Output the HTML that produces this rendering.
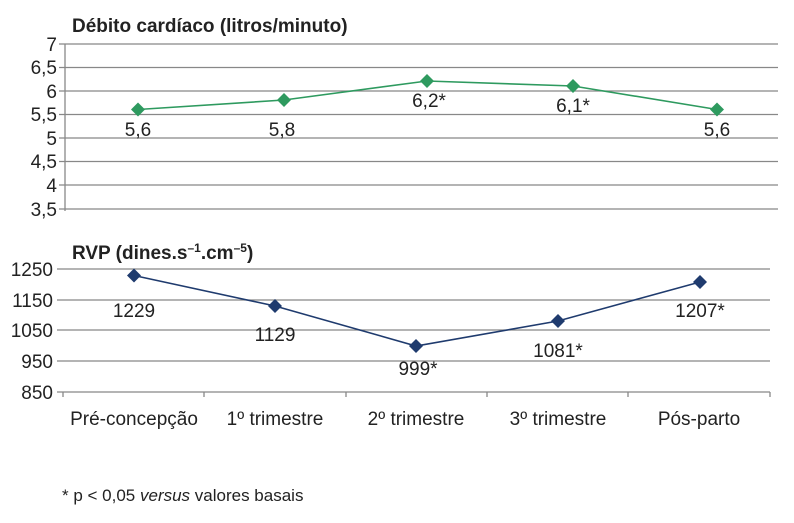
<!DOCTYPE html>
<html><head><meta charset="utf-8"><style>body{margin:0;background:#fff}svg{display:block}text{font-family:"Liberation Sans",sans-serif;fill:#222}</style></head><body>
<svg width="794" height="523" viewBox="0 0 794 523">
<text x="72" y="32" font-size="19" font-weight="bold">Débito cardíaco (litros/minuto)</text>
<g stroke="#888" stroke-width="1.3">
<line x1="59" y1="44" x2="778" y2="44"/><line x1="59" y1="67.5" x2="778" y2="67.5"/><line x1="59" y1="91" x2="778" y2="91"/><line x1="59" y1="114.5" x2="778" y2="114.5"/><line x1="59" y1="138" x2="778" y2="138"/><line x1="59" y1="161.5" x2="778" y2="161.5"/><line x1="59" y1="185" x2="778" y2="185"/><line x1="59" y1="209" x2="778" y2="209"/>
<line x1="65" y1="44" x2="65" y2="211"/>
</g>
<g font-size="19" text-anchor="end">
<text x="57" y="51">7</text><text x="57" y="74">6,5</text><text x="57" y="98">6</text><text x="57" y="121">5,5</text><text x="57" y="145">5</text><text x="57" y="168">4,5</text><text x="57" y="192">4</text><text x="57" y="216">3,5</text>
</g>
<polyline points="138,109.5 284,100 427,81 573,86 717,109.5" fill="none" stroke="#2e9a5f" stroke-width="1.6"/>
<g fill="#2e9a5f">
<path d="M138,102.5l7,7l-7,7l-7,-7z"/><path d="M284,93l7,7l-7,7l-7,-7z"/><path d="M427,74l7,7l-7,7l-7,-7z"/><path d="M573,79l7,7l-7,7l-7,-7z"/><path d="M717,102.5l7,7l-7,7l-7,-7z"/>
</g>
<g font-size="19" text-anchor="middle">
<text x="138" y="136">5,6</text><text x="282" y="136">5,8</text><text x="429" y="107">6,2*</text><text x="573" y="112">6,1*</text><text x="717" y="136">5,6</text>
</g>

<text x="72" y="259" font-size="19" font-weight="bold">RVP (dines.s<tspan font-size="12" dy="-7">–1</tspan><tspan dy="7">.cm</tspan><tspan font-size="12" dy="-7">–5</tspan><tspan dy="7">)</tspan></text>
<g stroke="#888" stroke-width="1.3">
<line x1="57" y1="269" x2="770" y2="269"/><line x1="57" y1="300" x2="770" y2="300"/><line x1="57" y1="330" x2="770" y2="330"/><line x1="57" y1="361" x2="770" y2="361"/><line x1="57" y1="392" x2="770" y2="392"/>
<line x1="63" y1="392" x2="63" y2="397"/><line x1="204" y1="392" x2="204" y2="397"/><line x1="346" y1="392" x2="346" y2="397"/><line x1="487" y1="392" x2="487" y2="397"/><line x1="628" y1="392" x2="628" y2="397"/><line x1="770" y1="392" x2="770" y2="397"/>
</g>
<g font-size="19" text-anchor="end">
<text x="53" y="276">1250</text><text x="53" y="307">1150</text><text x="53" y="337">1050</text><text x="53" y="368">950</text><text x="53" y="399">850</text>
</g>
<polyline points="134,275.5 275,306 416,346 558,321 700,282" fill="none" stroke="#1f3b6e" stroke-width="1.6"/>
<g fill="#1f3b6e">
<path d="M134,268.5l7,7l-7,7l-7,-7z"/><path d="M275,299l7,7l-7,7l-7,-7z"/><path d="M416,339l7,7l-7,7l-7,-7z"/><path d="M558,314l7,7l-7,7l-7,-7z"/><path d="M700,275l7,7l-7,7l-7,-7z"/>
</g>
<g font-size="19" text-anchor="middle">
<text x="134" y="317">1229</text><text x="275" y="341">1129</text><text x="418" y="375">999*</text><text x="558" y="357">1081*</text><text x="700" y="317">1207*</text>
</g>
<g font-size="19" text-anchor="middle">
<text x="134" y="425">Pré-concepção</text><text x="275" y="425">1º trimestre</text><text x="416" y="425">2º trimestre</text><text x="558" y="425">3º trimestre</text><text x="699" y="425">Pós-parto</text>
</g>
<text x="62" y="501" font-size="17">* p &lt; 0,05 <tspan font-style="italic">versus</tspan> valores basais</text>
</svg>
</body></html>
